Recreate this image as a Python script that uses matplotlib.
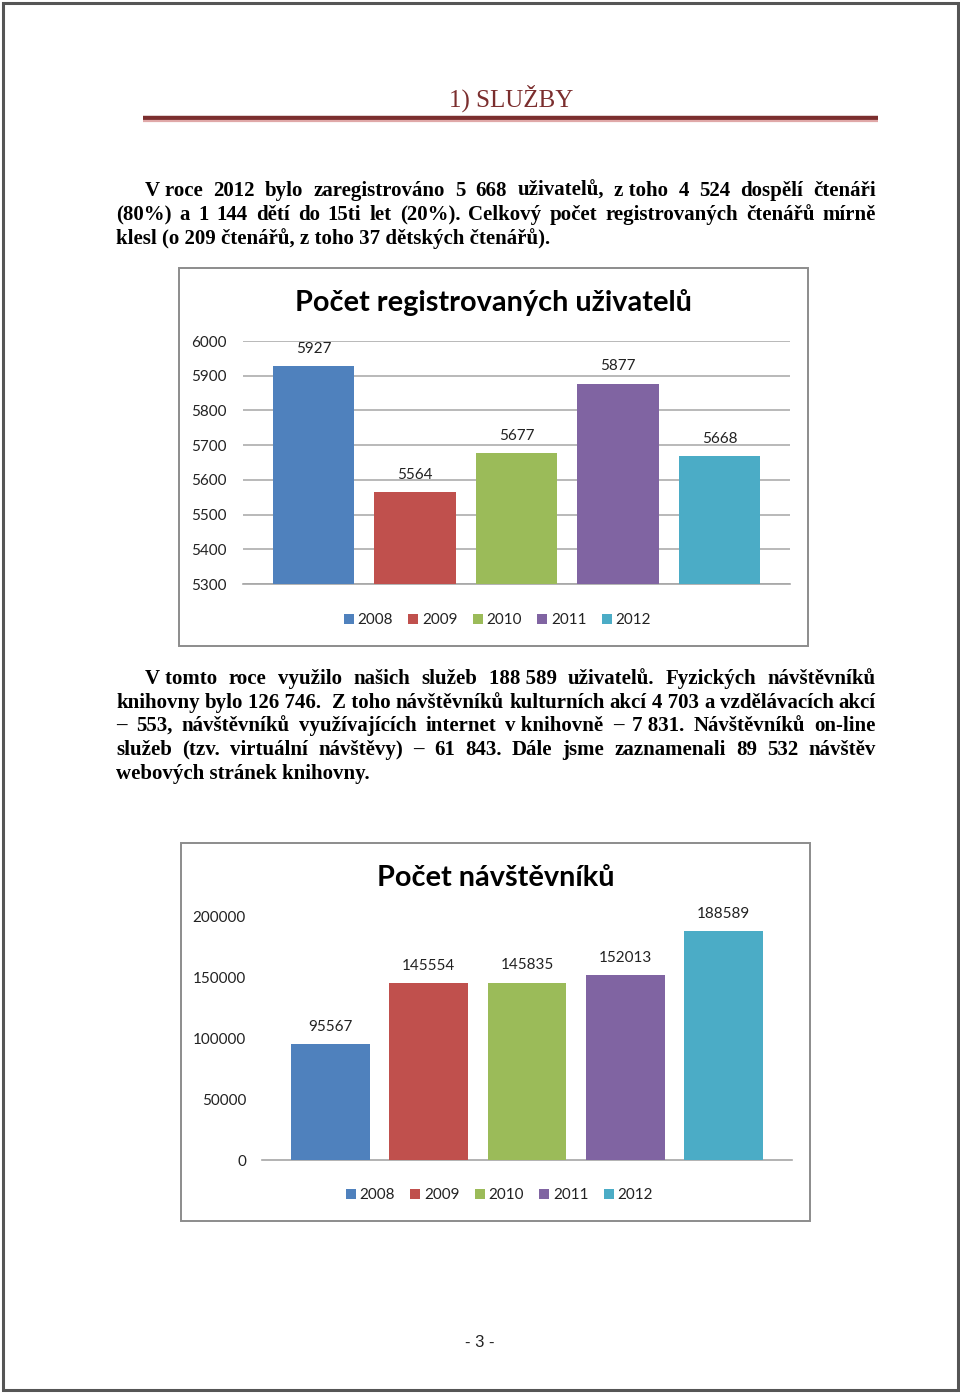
import numpy as np
import matplotlib
matplotlib.use("Agg")
import matplotlib.pyplot as plt
from matplotlib.patches import Rectangle
from matplotlib.lines import Line2D

# data
years = ["2008", "2009", "2010", "2011", "2012"]
registered = [5927, 5564, 5677, 5877, 5668]
visitors = [95567, 145554, 145835, 152013, 188589]
colors = ["#4F81BD", "#C0504D", "#9BBB59", "#8064A2", "#4BACC6"]

heading = "1) SLUŽBY"
title1 = "Počet registrovaných uživatelů"
title2 = "Počet návštěvníků"
para1 = [
    "V\u00a0roce 2012 bylo zaregistrováno 5 668 uživatelů, z\u00a0toho 4 524 dospělí čtenáři",
    "(80%) a 1 144 dětí do 15ti let (20%). Celkový počet registrovaných čtenářů mírně",
    "klesl (o 209 čtenářů, z\u00a0toho 37 dětských čtenářů).",
]
para2 = [
    "V\u00a0tomto roce využilo našich služeb 188\u00a0589 uživatelů. Fyzických návštěvníků",
    "knihovny bylo 126\u00a0746.\u00a0 Z\u00a0toho návštěvníků kulturních akcí 4\u00a0703 a vzdělávacích akcí",
    "– 553, návštěvníků využívajících internet v\u00a0knihovně – 7\u00a0831. Návštěvníků on-line",
    "služeb (tzv. virtuální návštěvy) – 61 843. Dále jsme zaznamenali 89 532 návštěv",
    "webových stránek knihovny.",
]
page_no = "- 3 -"

W, H = 960, 1393
fig = plt.figure(figsize=(W / 100, H / 100), dpi=100)
fig.patch.set_facecolor("white")
renderer = fig.canvas.get_renderer()


def fx(px):
    return px / W


def fy(py):
    return 1 - py / H


def box(x0, y0, x1, y1, **kw):
    fig.patches.append(Rectangle((fx(x0), fy(y1)), fx(x1) - fx(x0), fy(y0) - fy(y1),
                                 transform=fig.transFigure, fill=False, **kw))


def hline(x0, x1, y, **kw):
    fig.lines.append(Line2D([fx(x0), fx(x1)], [fy(y), fy(y)], transform=fig.transFigure, **kw))


# page border
box(2.5, 2.5, 957.5, 1389.5, lw=2.2, edgecolor="#555555")

# heading
fig.text(fx(511), fy(107), heading, ha="center", va="baseline", fontsize=18,
         family="Liberation Serif", color="#7B2E2E")
hline(143, 878, 117.5, lw=3.2, color="#7B2E2E", solid_capstyle="butt")
hline(143, 878, 120.8, lw=1.6, color="#E0A8A8", solid_capstyle="butt")

body_font = dict(fontsize=15, family="Liberation Serif", weight="bold", color="black")


def text_width(s):
    t = fig.text(0, 0, s, **body_font)
    w = t.get_window_extent(renderer).width
    t.remove()
    return w


def paragraph(lines, baselines, left=116, indent=145, right=876):
    for i, (line, yb) in enumerate(zip(lines, baselines)):
        x0 = indent if i == 0 else left
        last = i == len(lines) - 1
        if last:
            fig.text(fx(x0), fy(yb), line.replace("\u00a0", " "), ha="left", va="baseline", **body_font)
            continue
        words = [w.replace("\u00a0", " ") for w in line.split(" ")]
        widths = [text_width(w) for w in words]
        gap = (right - x0 - sum(widths)) / (len(words) - 1)
        x = x0
        for w, wd in zip(words, widths):
            fig.text(fx(x), fy(yb), w, ha="left", va="baseline", **body_font)
            x += wd + gap


paragraph(para1, [196, 220, 244])
paragraph(para2, [684, 708, 731, 755, 779])

# page number
fig.text(fx(480), fy(1347), page_no, ha="center", va="baseline", fontsize=12,
         family="Liberation Sans", color="#222222")

chart_font = "Lato"


def chart(frame, plot, ylim, ticks, values, title, title_y, legend_y, grid):
    box(*frame, lw=1.4, edgecolor="#8C8C8C")
    x0, y0, x1, y1 = plot
    ax = fig.add_axes([fx(x0), fy(y1), fx(x1) - fx(x0), fy(y0) - fy(y1)])
    ax.set_facecolor("none")
    x = np.arange(len(values))
    ax.bar(x, values, width=0.8, color=colors, label=years, zorder=3)
    ax.set_xlim(-0.695, 4.695)
    ax.set_ylim(*ylim)
    ax.set_yticks(ticks)
    ax.set_xticks([])
    for s in ["top", "right", "left"]:
        ax.spines[s].set_visible(False)
    ax.spines["bottom"].set_color("#A6A6A6")
    ax.spines["bottom"].set_linewidth(1.2)
    ax.tick_params(axis="y", length=0, pad=11.5, labelsize=11, labelcolor="#222222")
    for lab in ax.get_yticklabels():
        lab.set_family(chart_font)
    if grid:
        ax.yaxis.grid(True, color="#A6A6A6", lw=1.1)
    for xi, v in zip(x, values):
        ax.annotate(str(v), (xi, v), xytext=(0, 12.5), textcoords="offset points",
                    ha="center", va="center", fontsize=11, family=chart_font, color="#222222")
    cx = (frame[0] + frame[2]) / 2
    fig.text(fx(cx), fy(title_y), title, ha="center", va="center", fontsize=20.8,
             family=chart_font, weight="bold", color="black")
    ax.legend(loc="center", bbox_to_anchor=(fx(cx + 4), fy(legend_y)), bbox_transform=fig.transFigure,
              ncol=5, frameon=False, handlelength=0.65, handleheight=0.65, handletextpad=0.25,
              columnspacing=1.0, prop={"family": chart_font, "size": 11}, labelcolor="#222222")
    return ax


chart((179, 268, 808, 646), (243, 341, 790, 584), (5300, 6000), range(5300, 6001, 100),
      registered, title1, 302, 620, True)
chart((181, 843, 810, 1221), (262, 917, 792, 1160), (0, 200000), range(0, 200001, 50000),
      visitors, title2, 878, 1195, False)

fig.savefig("out.png", dpi=100)
